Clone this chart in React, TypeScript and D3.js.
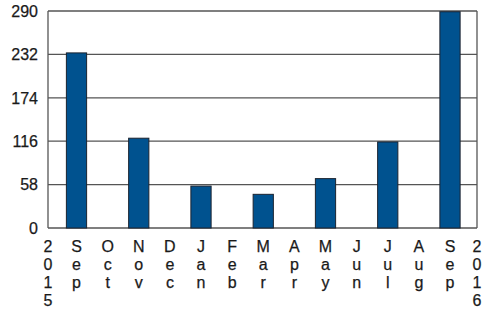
import React from "react";
import * as d3 from "d3";

const months = ["Sep", "Oct", "Nov", "Dec", "Jan", "Feb", "Mar", "Apr", "May", "Jun", "Jul", "Aug", "Sep"];
const monthKeys = ["Sep15", "Oct", "Nov", "Dec", "Jan", "Feb", "Mar", "Apr", "May", "Jun", "Jul", "Aug", "Sep16"];
const values = [234, 0, 120, 0, 56, 0, 45, 0, 66, 0, 115, 0, 289];
const yearLabels = ["2015", "2016"];
const yTicks = [0, 58, 116, 174, 232, 290];

const W = 482;
const H = 309;
const plotLeft = 48;
const plotRight = 477;
const plotTop = 11;
const plotBottom = 228;
const font = "Liberation Sans, Arial, sans-serif";
const fontSize = 16;
const lineH = 18;
const labelBase = 252;

export default function App() {
  const y = d3.scaleLinear().domain([0, 290]).range([plotBottom, plotTop]);
  const x = d3.scalePoint<string>().domain(monthKeys).range([76.5, 450]);
  const barW = x.step() * 0.65;
  const yearX = d3.scalePoint<string>().domain(yearLabels).range([plotLeft, plotRight]);

  const stacked = (label: string, cx: number, key: string) => (
    <text key={key} x={cx} y={labelBase} textAnchor="middle" fontFamily={font} fontSize={fontSize} fill="#1a1a1a"
      stroke="#1a1a1a" strokeWidth={0.25}>
      {label.split("").map((ch, i) => (
        <tspan key={i} x={cx} y={labelBase + i * lineH}>{ch}</tspan>
      ))}
    </text>
  );

  return (
    <svg width={W} height={H} style={{ position: "absolute", left: 0, top: 0, background: "#fff" }}>
      {yTicks.map((t) => (
        <g key={t}>
          <line x1={plotLeft} x2={plotRight} y1={y(t)} y2={y(t)} stroke="#555" strokeWidth={1.3} />
          <text x={38} y={y(t)} dy="0.36em" textAnchor="end" fontFamily={font} fontSize={fontSize} fill="#1a1a1a"
            stroke="#1a1a1a" strokeWidth={0.25}>{t}</text>
        </g>
      ))}
      <line x1={plotLeft} x2={plotLeft} y1={plotTop} y2={plotBottom} stroke="#555" strokeWidth={1.3} />
      <line x1={plotRight} x2={plotRight} y1={plotTop} y2={plotBottom} stroke="#555" strokeWidth={1.3} />
      {values.map((v, i) =>
        v > 0 ? (
          <rect key={i} x={(x(monthKeys[i]) as number) - barW / 2} y={y(v)} width={barW} height={y(0) - y(v)}
            fill="#00528f" stroke="#1b2330" strokeWidth={1} />
        ) : null
      )}
      {months.map((m, i) => stacked(m, x(monthKeys[i]) as number, "m" + i))}
      {yearLabels.map((yl) => stacked(yl, yearX(yl) as number, "y" + yl))}
    </svg>
  );
}
